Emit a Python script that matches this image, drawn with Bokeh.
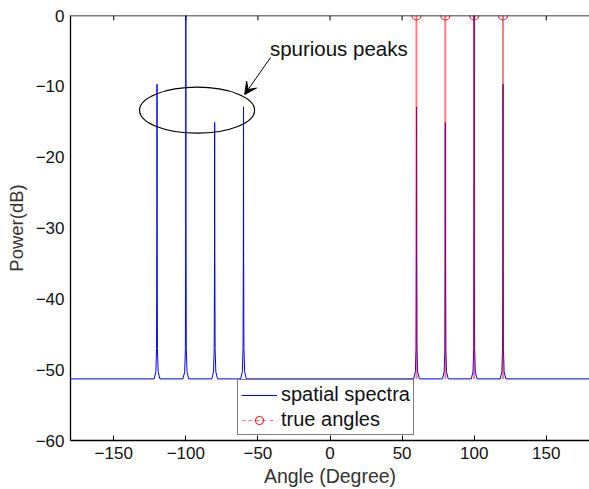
from bokeh.plotting import figure
from bokeh.models import (Range1d, FixedTicker, Legend, LegendItem,
                          Arrow, VeeHead, Label, Span)
from bokeh.embed import file_html
from bokeh.resources import INLINE

# ---- data ----
spec_angle = [-180, -122.0, -120.8, -120.3, -120.1, -120.0, -119.9, -119.7, -119.2, -118.0,
              -102.0, -100.8, -100.3, -100.1, -100.0, -99.9, -99.7, -99.2, -98.0,
              -82.0, -80.8, -80.3, -80.1, -80.0, -79.9, -79.7, -79.2, -78.0,
              -62.0, -60.8, -60.3, -60.1, -60.0, -59.9, -59.7, -59.2, -58.0,
              58.0, 59.2, 59.7, 59.9, 60.0, 60.1, 60.3, 60.8, 62.0,
              78.0, 79.2, 79.7, 79.9, 80.0, 80.1, 80.3, 80.8, 82.0,
              98.0, 99.2, 99.7, 99.9, 100.0, 100.1, 100.3, 100.8, 102.0,
              118.0, 119.2, 119.7, 119.9, 120.0, 120.1, 120.3, 120.8, 122.0, 180]
spec_power = [-51.3, -51.3, -50.3, -47.0, -32.0, -9.7, -32.0, -47.0, -50.3, -51.3,
              -51.3, -50.3, -47.0, -30.0, 0.0, -30.0, -47.0, -50.3, -51.3,
              -51.3, -50.3, -47.0, -33.0, -15.1, -33.0, -47.0, -50.3, -51.3,
              -51.3, -50.3, -47.0, -33.0, -12.9, -33.0, -47.0, -50.3, -51.3,
              -51.3, -50.3, -47.0, -33.0, -12.9, -33.0, -47.0, -50.3, -51.3,
              -51.3, -50.3, -47.0, -33.0, -15.1, -33.0, -47.0, -50.3, -51.3,
              -51.3, -50.3, -47.0, -30.0, 0.0, -30.0, -47.0, -50.3, -51.3,
              -51.3, -50.3, -47.0, -32.0, -9.7, -32.0, -47.0, -50.3, -51.3, -51.3]
true_angles = [60, 80, 100, 120]
true_power = [0, 0, 0, 0]
stem_floor = [-51.3, -51.3, -51.3, -51.3]

x_ticks = [-150, -100, -50, 0, 50, 100, 150]
y_ticks = [-60, -50, -40, -30, -20, -10, 0]
top_tick_start = [0] * len(x_ticks)
top_tick_end = [-0.7] * len(x_ticks)

FONT = "Liberation Sans"

p = figure(width=589, height=489, output_backend="svg", toolbar_location=None,
           x_range=Range1d(-180, 180), y_range=Range1d(-60, 0),
           min_border_left=70, min_border_right=0, min_border_top=15, min_border_bottom=49,
           outline_line_color=None, background_fill_color="white")
p.xgrid.visible = False
p.ygrid.visible = False

# axes
xa = p.xaxis[0]
xa.ticker = FixedTicker(ticks=x_ticks)
xa.axis_label = "Angle (Degree)"
ya = p.yaxis[0]
ya.ticker = FixedTicker(ticks=y_ticks)
ya.axis_label = "Power(dB)"
for ax in (xa, ya):
    ax.major_label_text_font = FONT
    ax.major_label_text_font_size = "17px"
    ax.major_label_text_color = "#111111"
    ax.axis_label_text_font = FONT
    ax.axis_label_text_font_style = "normal"
    ax.axis_label_text_color = "#333333"
    ax.axis_line_color = "black"
    ax.axis_line_width = 1.3
    ax.major_tick_out = 0
    ax.minor_tick_in = 0
    ax.minor_tick_out = 0
    ax.major_tick_line_color = "black"
xa.axis_label_text_font_size = "19.5px"
ya.axis_label_text_font_size = "18.5px"
xa.major_tick_in = 5
xa.major_label_standoff = 6
xa.axis_label_standoff = 3
ya.major_tick_in = 0
ya.major_label_standoff = 6
ya.axis_label_standoff = 6

# top border and its inward ticks
p.add_layout(Span(location=0, dimension="width", line_color="black", line_width=1.3))
p.segment(x0=x_ticks, y0=top_tick_start, x1=x_ticks, y1=top_tick_end,
          line_color="black", line_width=1)

# spectrum
spec = p.line(spec_angle, spec_power, line_color="blue", line_width=1)

# true angles
stems = p.segment(x0=true_angles, y0=stem_floor, x1=true_angles, y1=true_power,
                  line_color="red", line_alpha=0.5, line_width=2)
circ = p.scatter(true_angles, true_power, marker="circle", size=9, fill_color=None,
                 line_color="red", line_alpha=0.85, line_width=1.2)
# legend proxy for the dashed style (a single point draws nothing in the plot)
dash_r = p.line(true_angles[:1], true_power[:1], line_color="red", line_alpha=0.5,
                line_dash="4 3", line_width=1)

# annotation
ann_ellipse = dict(x=-92.2, y=-13.37, w=79.8, h=6.5)
ann_arrow = dict(x0=-41.2, y0=-5.93, x1=-59.2, y1=-11.15)
ann_text = dict(x=-41.7, y=-4.66)
p.ellipse(x=[ann_ellipse["x"]], y=[ann_ellipse["y"]], width=ann_ellipse["w"],
          height=ann_ellipse["h"], fill_color=None, line_color="black", line_width=1.2)
p.add_layout(Arrow(end=VeeHead(size=12, fill_color="black", line_color="black"),
                   x_start=ann_arrow["x0"], y_start=ann_arrow["y0"],
                   x_end=ann_arrow["x1"], y_end=ann_arrow["y1"],
                   line_color="black", line_width=1))
p.add_layout(Label(x=ann_text["x"], y=ann_text["y"], text="spurious peaks",
                   text_baseline="middle", text_font=FONT, text_font_size="20.5px",
                   text_color="#111111"))

legend = Legend(items=[LegendItem(label="spatial spectra", renderers=[spec]),
                       LegendItem(label="true angles", renderers=[dash_r, circ])],
                location=(167, 5), orientation="vertical",
                border_line_color="black", border_line_width=1,
                background_fill_alpha=1, padding=3, spacing=2,
                glyph_width=36, glyph_height=20, label_height=20,
                label_standoff=4, label_text_font=FONT, label_text_font_size="20px",
                label_text_color="#111111", margin=0)
p.add_layout(legend)

open("out.html", "w").write(file_html(p, INLINE))
